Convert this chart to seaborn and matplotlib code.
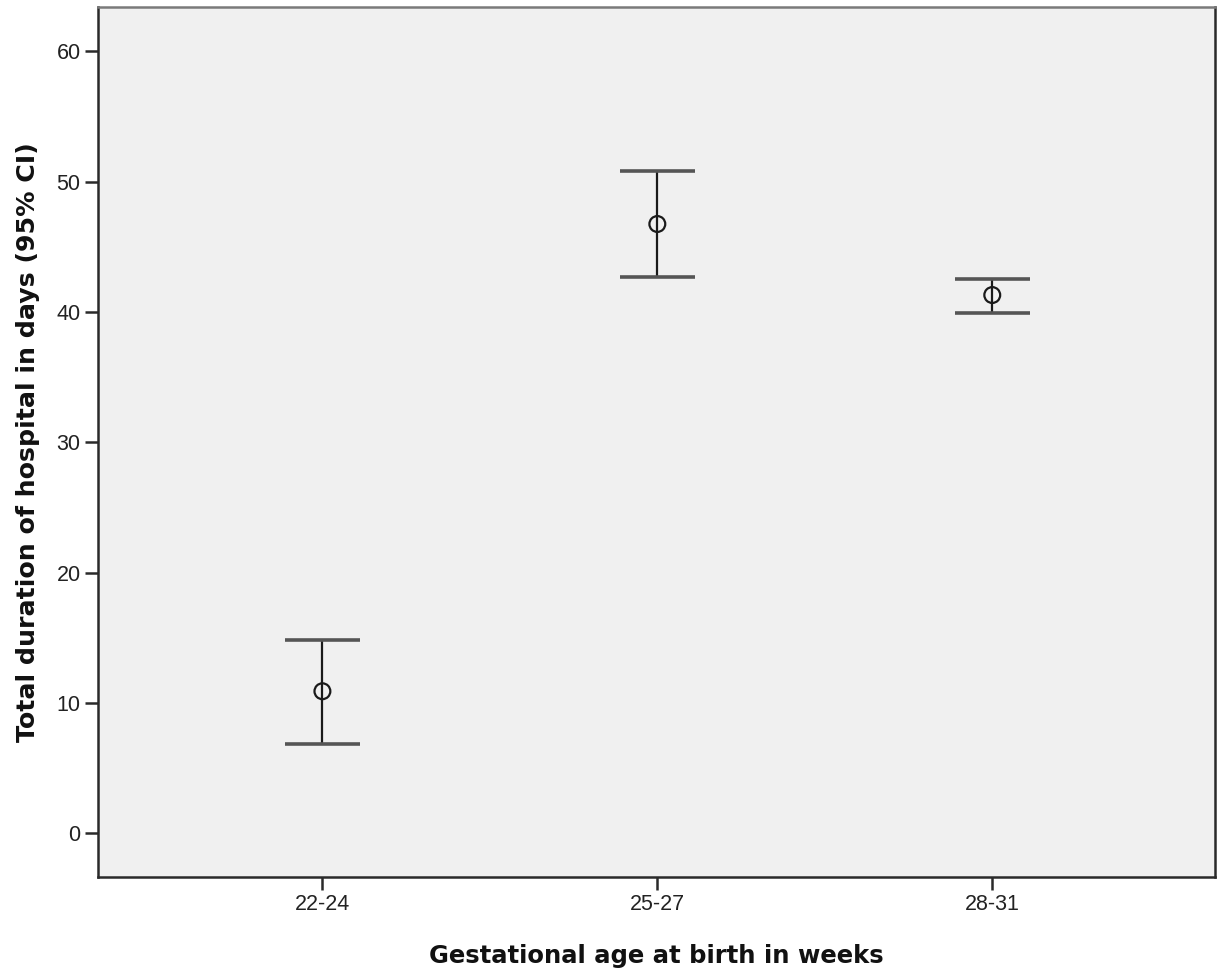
import matplotlib
matplotlib.use("Agg")
import matplotlib.pyplot as plt
import seaborn as sns
import pandas as pd

# Mean hospital stay (days) with 95% confidence limits by gestational age group
age_groups = ["22-24", "25-27", "28-31"]
mean_days = [10.9, 46.75, 41.3]
ci_lower = [6.85, 42.7, 39.95]
ci_upper = [14.8, 50.8, 42.55]
y_ticks = [0, 10, 20, 30, 40, 50, 60]

df = pd.DataFrame({"group": age_groups, "mean": mean_days,
                   "lo": ci_lower, "hi": ci_upper})

sns.set_style("ticks")
plt.rcParams["font.family"] = ["Liberation Sans", "DejaVu Sans"]

fig = plt.figure(figsize=(12.19, 9.73), dpi=100)
ax = fig.add_axes([0.0804, 0.0987, 0.9163, 0.8941])
ax.set_facecolor("#f0f0f0")

err_low = df["mean"] - df["lo"]
err_high = df["hi"] - df["mean"]

# Vertical CI stems
ax.errorbar(df["group"], df["mean"], yerr=[err_low, err_high], fmt="none",
            ecolor="#1a1a1a", elinewidth=1.6, capsize=0, zorder=2)
# Horizontal caps at the CI limits
ax.errorbar(df["group"], df["mean"], yerr=[err_low, err_high], fmt="none",
            ecolor="#555555", elinewidth=0, capsize=27, capthick=2.6, zorder=2)

# Group means
sns.scatterplot(data=df, x="group", y="mean", ax=ax, marker="o", s=130,
                facecolor="none", edgecolor="#1a1a1a", linewidth=1.6, zorder=3)

ax.set_xlim(-0.67, 2.665)
ax.set_ylim(-3.35, 63.4)
ax.set_yticks(y_ticks)
ax.set_yticklabels([str(v) for v in y_ticks])

ax.tick_params(axis="both", which="major", direction="out", length=9.5,
               width=1.8, color="#2a2a2a", labelsize=15.5, labelcolor="#222222",
               pad=3)

for side, sp in ax.spines.items():
    sp.set_visible(True)
    sp.set_linewidth(1.8)
    sp.set_color("#2a2a2a")
ax.spines["top"].set_color("#7a7a7a")

title_font = dict(family="DejaVu Sans", fontweight="bold", color="#111111")
ax.set_xlabel("Gestational age at birth in weeks", labelpad=21,
              fontsize=17.5, **title_font)
ax.set_ylabel("Total duration of hospital in days (95% CI)", labelpad=12,
              fontsize=18.2, **title_font)

fig.savefig("out.png", dpi=100, facecolor="white")
